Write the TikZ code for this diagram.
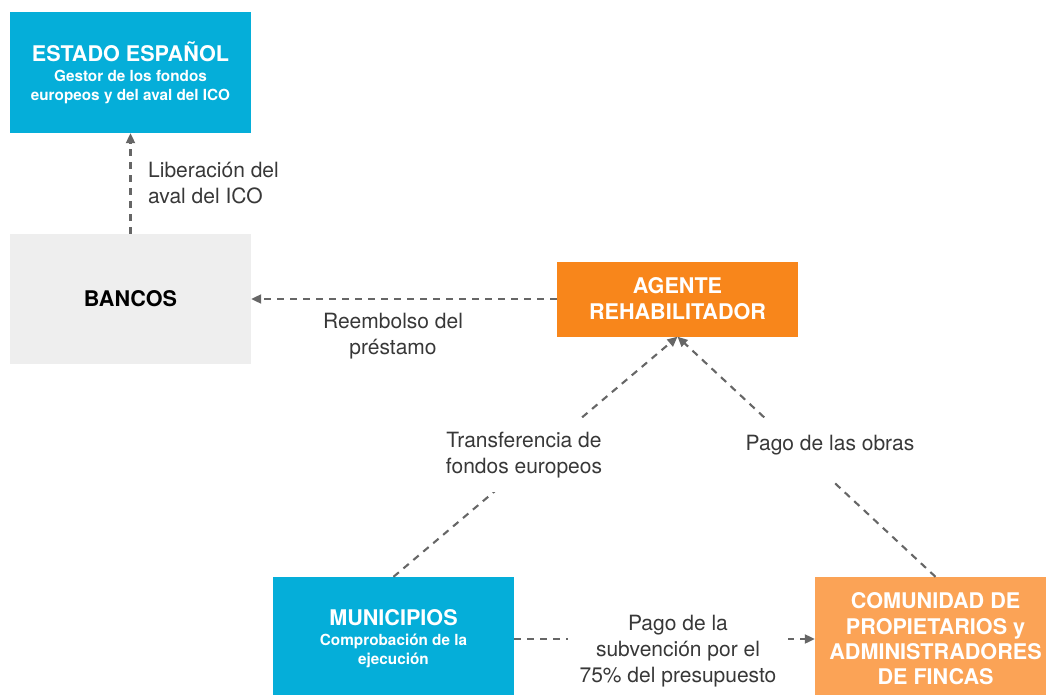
\documentclass[tikz,border=0pt]{standalone}
\usepackage{fontspec}
\setmainfont{TeX Gyre Heros}
\usetikzlibrary{arrows.meta}
\definecolor{azul}{HTML}{05AED9}
\definecolor{naranja}{HTML}{F8861B}
\definecolor{naranjaclaro}{HTML}{FBA356}
\definecolor{grisclaro}{HTML}{EEEEEE}
\definecolor{flecha}{HTML}{666666}
\definecolor{texto}{HTML}{383838}
\begin{document}
\begin{tikzpicture}[x=1pt,y=-1pt,thin,
					main node/.style = {rectangle, inner sep = 0pt, minimum width = 241pt, align = center, font = \bfseries},
					blue node/.style = {main node, fill = azul, text = white, font = \fontsize{15.3}{19}\selectfont\bfseries},
					orange node/.style = {main node, fill = naranja, text = white, font = \fontsize{21.6}{26}\selectfont\bfseries},
					label node/.style = {align = center, text = texto, inner sep = 0pt, font = \fontsize{21}{26}\selectfont},
					dash edge/.style = {draw = flecha, line width = 2.1pt, dash pattern = on 7pt off 6pt, -{Triangle[length=10pt,width=9pt]}}]
					
					\useasboundingbox (0,0) rectangle (1046,695);
					\clip (0,0) rectangle (1046,695);
					
					\node[blue node, minimum height = 121pt] at (130.5,72.5) (1) {{\fontsize{21.6}{21.6}\selectfont ESTADO ESPAÑOL}\\[1pt]Gestor de los fondos\\europeos y del aval del ICO};
					\node[main node, fill = grisclaro, minimum height = 130pt, font = \fontsize{21.6}{26}\selectfont\bfseries] at (130.5,299) (2) {BANCOS};
					\node[orange node, minimum height = 75pt] at (677.5,299) (3) {AGENTE\\REHABILITADOR};
					\node[blue node, minimum height = 124pt] at (393.5,639) (4) {{\fontsize{21.6}{21.6}\selectfont MUNICIPIOS}\\[1pt]Comprobación de la\\ejecución};
					\node[orange node, fill = naranjaclaro, minimum height = 124pt, font = \fontsize{21.6}{25.3}\selectfont\bfseries] at (935.5,639) (5) {COMUNIDAD DE\\PROPIETARIOS y\\ADMINISTRADORES\\DE FINCAS};
					
					\path (2) edge [dash edge] (1);
					\path (3) edge [dash edge] (2);
					\path (4.north) edge [dash edge] (3.south);
					\path (5.north) edge [dash edge] (3.south);
					\path (4) edge [dash edge] (5);
					
					\node[label node, anchor = west, align = left] at (148,183) (6) {Liberación del\\aval del ICO};
					\node[label node] at (393,336) (7) {Reembolso del\\préstamo};
					\node[label node, fill = white, inner xsep = 4pt, inner ysep = 14pt] at (524,455) (8) {Transferencia de\\fondos europeos};
					\node[label node, fill = white, inner xsep = 4pt, text height = 32pt, text depth = 31pt, anchor = base] at (830,450) (9) {Pago de las obras};
					\node[label node, fill = white, inner xsep = 12pt, inner ysep = 4pt] at (678,651) (10) {Pago de la\\subvención por el\\75\% del presupuesto};
					
					\end{tikzpicture}
\end{document}
